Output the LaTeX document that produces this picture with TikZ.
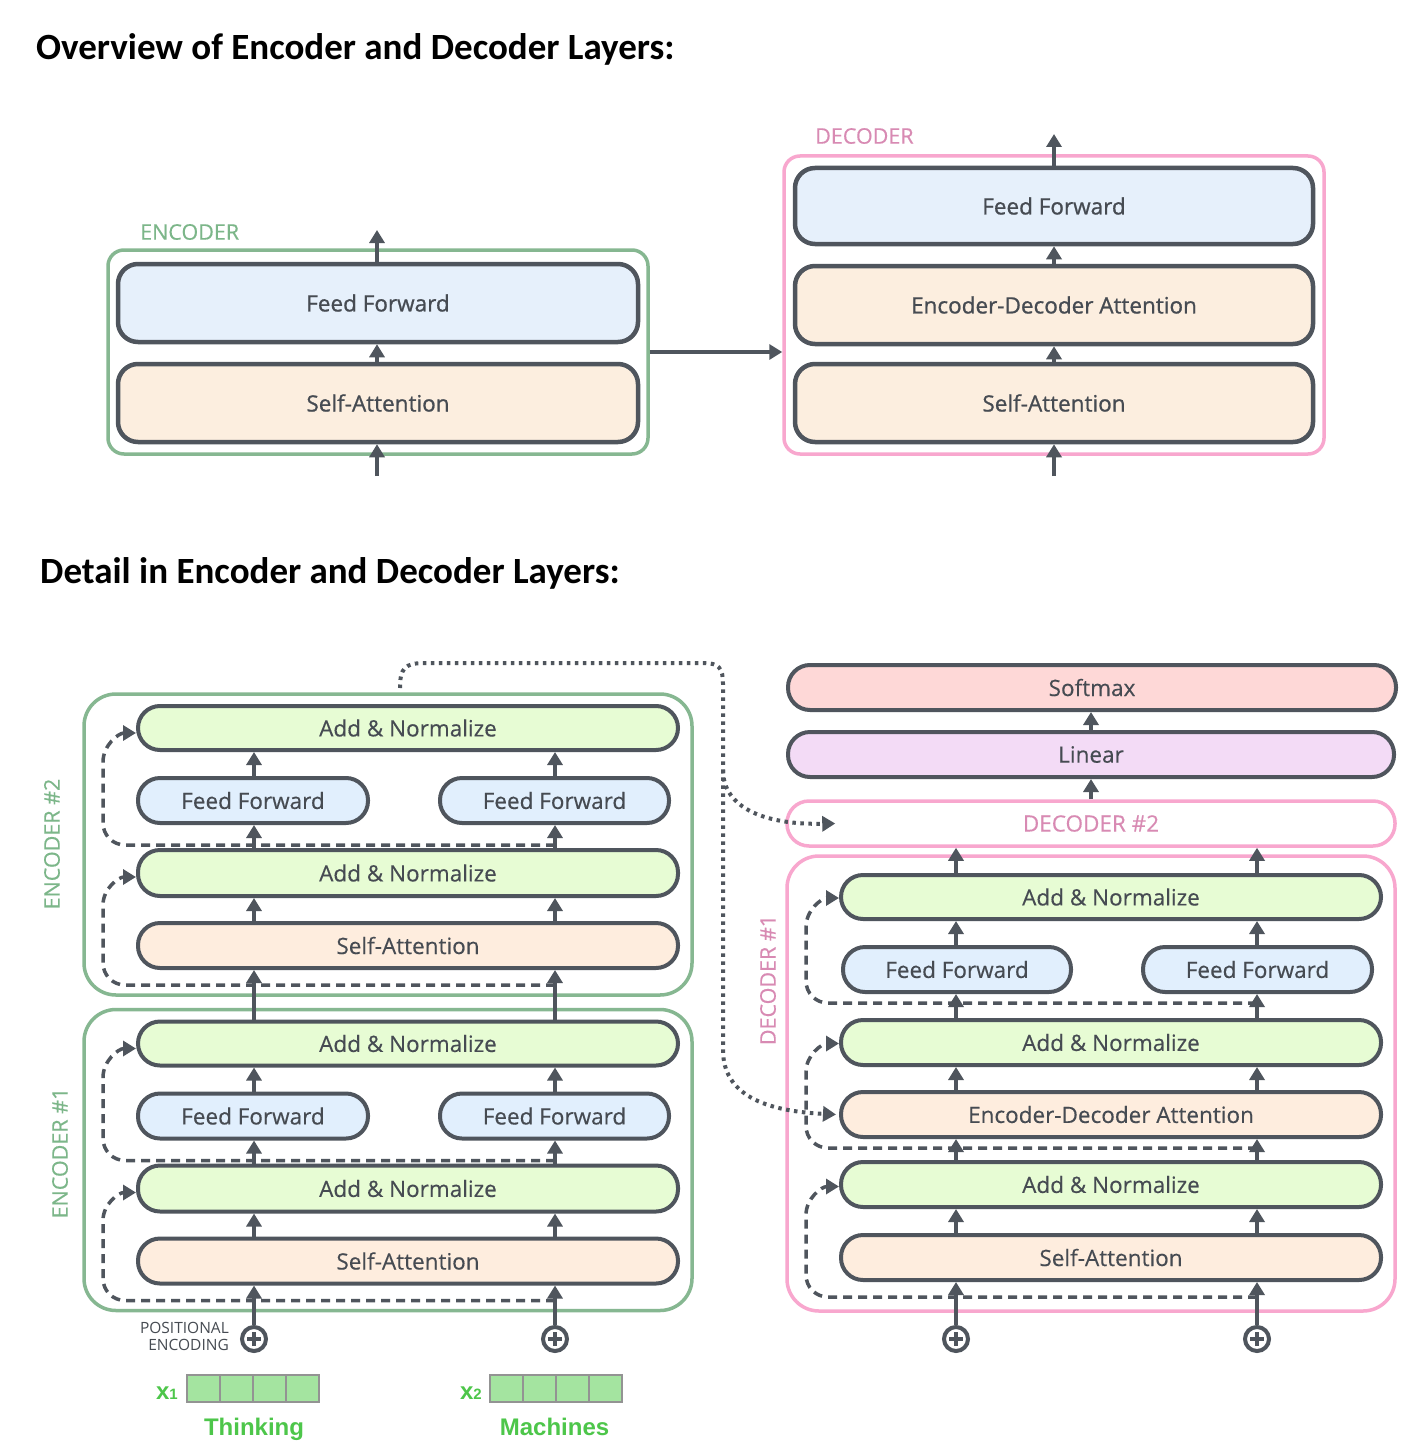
\documentclass[tikz,border=0pt]{standalone}
\usepackage{fontspec}
\newfontfamily\osans{Open Sans}
\newfontfamily\osansb[FakeBold=0.9]{Open Sans}
\newfontfamily\osansm[FakeBold=0.35]{Open Sans}
\newfontfamily\carl{Carlito}
\newfontfamily\lsans{Liberation Sans}
\usetikzlibrary{arrows.meta,calc}
\definecolor{dk}{HTML}{4F555D}
\definecolor{txt}{HTML}{464B52}
\definecolor{grnO}{HTML}{86B791}
\definecolor{grnT}{HTML}{7CB689}
\definecolor{pnkO}{HTML}{F8A7CE}
\definecolor{pnkT}{HTML}{D88AB3}
\definecolor{cAN}{HTML}{E7FCD4}
\definecolor{cFF}{HTML}{E1EFFD}
\definecolor{cSA}{HTML}{FEEDDE}
\definecolor{tFF}{HTML}{E6F0FB}
\definecolor{tSA}{HTML}{FCEEDF}
\definecolor{cSmx}{HTML}{FED8D7}
\definecolor{cLin}{HTML}{F3DBF6}
\definecolor{word}{HTML}{4DC64A}
\definecolor{cell}{HTML}{A4E4A0}
\tikzset{
 box/.style={draw=dk, line width=4pt, text=txt, inner sep=0pt, font=\osansm\fontsize{22.5}{27}\selectfont},
 pill/.style={box, rounded corners=22pt},
 bigbox/.style={draw=dk, line width=4.5pt, text=txt, inner sep=0pt, rounded corners=20pt, font=\osansb\fontsize{22.5}{27}\selectfont},
 outerG/.style={draw=grnO, line width=3.5pt, rounded corners=32pt, inner sep=0pt},
 outerP/.style={draw=pnkO, line width=3.5pt, rounded corners=32pt, inner sep=0pt},
 arr/.style={draw=dk, line width=4pt, -{Triangle[width=15pt,length=13pt]}},
 resid/.style={draw=dk, line width=3.5pt, dash pattern=on 9pt off 6pt, -{Triangle[width=15pt,length=13pt]}},
 dots/.style={draw=dk, line width=4pt, dash pattern=on 3.5pt off 4.5pt, -{Triangle[width=15pt,length=13pt]}},
 lblG/.style={text=grnT, inner sep=0pt, font=\osansm\fontsize{21.5}{25}\selectfont},
 lblP/.style={text=pnkT, inner sep=0pt, font=\osansm\fontsize{21.5}{25}\selectfont},
 title/.style={anchor=west, inner sep=0pt, font=\carl\bfseries\fontsize{37}{42}\selectfont},
 oplus/.style={circle, draw=dk, line width=4pt, minimum size=24pt, inner sep=0pt,
   path picture={\draw[dk, line width=3.5pt]
     ([xshift=-7pt]path picture bounding box.center) -- ([xshift=7pt]path picture bounding box.center)
     ([yshift=-7pt]path picture bounding box.center) -- ([yshift=7pt]path picture bounding box.center);}},
 cellbox/.style={draw=gray!85, fill=cell, line width=1.2pt, minimum width=33pt, minimum height=27pt, inner sep=0pt},
 xlab/.style={anchor=base east, inner sep=0pt, text=word, font=\lsans\bfseries\fontsize{24}{24}\selectfont},
 wordlab/.style={anchor=base, inner sep=0pt, text=word, font=\lsans\bfseries\fontsize{24}{24}\selectfont},
}
\newcommand{\EncLayer}[2]{%
\begin{scope}[yshift=-#2pt]
 \node[outerG, minimum width=608pt, minimum height=301pt] (#1o) at (388,844.5) {};
 \node[pill, fill=cAN, minimum width=540pt, minimum height=44pt] (#1an2) at (408,728) {Add \& Normalize};
 \node[pill, fill=cFF, minimum width=230pt, minimum height=45pt] (#1ffa) at (253,800.5) {Feed Forward};
 \node[pill, fill=cFF, minimum width=229pt, minimum height=45pt] (#1ffb) at (554.5,800.5) {Feed Forward};
 \node[pill, fill=cAN, minimum width=540pt, minimum height=46pt] (#1an1) at (408,873) {Add \& Normalize};
 \node[pill, fill=cSA, minimum width=540pt, minimum height=45pt] (#1sa) at (408,945.5) {Self-Attention};
 \draw[resid] (555,985) -- (125,985) to[out=180,in=-90] (103,963) -- (103,905) to[out=90,in=180] ([yshift=-4pt]#1an1.west);
 \draw[resid] (555,845) -- (125,845) to[out=180,in=-90] (103,823) -- (103,762) to[out=90,in=180] ([yshift=-5pt]#1an2.west);
 \draw[arr] (#1sa.north -| cA) -- (#1an1.south -| cA);
 \draw[arr] (#1sa.north -| cB) -- (#1an1.south -| cB);
 \draw[arr] (#1an1.north -| cA) -- (#1ffa.south -| cA);
 \draw[arr] (#1an1.north -| cB) -- (#1ffb.south -| cB);
 \draw[arr] (#1ffa.north -| cA) -- (#1an2.south -| cA);
 \draw[arr] (#1ffb.north -| cB) -- (#1an2.south -| cB);
\end{scope}}
\begin{document}
\begin{tikzpicture}[x=1pt,y=-1pt]
\fill[white] (0,0) rectangle (1410,1442);
\useasboundingbox (0,0) rectangle (1410,1442);

% titles
\node[title] (t1) at (36,49) {Overview of Encoder and Decoder Layers:};
\node[title] (t2) at (40,573) {Detail in Encoder and Decoder Layers:};

% ---------- overview: encoder ----------
\node[outerG, rounded corners=16pt, minimum width=540pt, minimum height=204pt] (tenc) at (378,352) {};
\node[lblG, anchor=west] (tencl) at (140,232) {ENCODER};
\node[bigbox, fill=tFF, minimum width=520pt, minimum height=78pt] (tff) at (378,303) {Feed Forward};
\node[bigbox, fill=tSA, minimum width=520pt, minimum height=78pt] (tsa) at (378,403) {Self-Attention};
\coordinate (tin) at (377,476);
\coordinate (tout) at (377,230);
\draw[arr] (tin) -- (tsa.south -| tin);
\draw[arr] (tsa.north -| tin) -- (tff.south -| tin);
\draw[arr] (tff.north -| tin) -- (tout);

% ---------- overview: decoder ----------
\node[outerP, rounded corners=16pt, minimum width=540pt, minimum height=298pt] (tdec) at (1054,305) {};
\node[lblP, anchor=west] (tdecl) at (815,136) {DECODER};
\node[bigbox, fill=tFF, minimum width=518pt, minimum height=76pt] (tdff) at (1054,206) {Feed Forward};
\node[bigbox, fill=tSA, minimum width=518pt, minimum height=78pt] (tdeda) at (1054,305) {Encoder-Decoder Attention};
\node[bigbox, fill=tSA, minimum width=518pt, minimum height=78pt] (tdsa) at (1054,403) {Self-Attention};
\coordinate (tdin) at (1054,476);
\coordinate (tdout) at (1054,134);
\draw[arr] (tdin) -- (tdsa.south);
\draw[arr] (tdsa.north) -- (tdeda.south);
\draw[arr] (tdeda.north) -- (tdff.south);
\draw[arr] (tdff.north) -- (tdout);
\draw[arr] (tenc.east) -- (tenc.east -| tdec.west);

% ---------- detail: encoders ----------
\coordinate (cA) at (254,0);
\coordinate (cB) at (555,0);
\EncLayer{e2}{0}
\EncLayer{e1}{315.5}
\node[lblG, rotate=90] (e2lab) at (52,844) {ENCODER \#2};
\node[lblG, rotate=90] (e1lab) at (60,1153) {ENCODER \#1};
\draw[arr] (e1an2.north -| cA) -- (e2sa.south -| cA);
\draw[arr] (e1an2.north -| cB) -- (e2sa.south -| cB);

\node[oplus] (p1) at (254,1339) {};
\node[oplus] (p2) at (555,1339) {};
\draw[arr] (p1.north) -- (e1sa.south -| cA);
\draw[arr] (p2.north) -- (e1sa.south -| cB);
\node[anchor=east, align=right, inner sep=0pt, text=txt, font=\osans\fontsize{15.5}{16.5}\selectfont] (pe) at (229,1336.5) {POSITIONAL\\ENCODING};

\foreach \i/\x in {1/203.5,2/236.5,3/269.5,4/302.5} \node[cellbox] (xa\i) at (\x,1388.5) {};
\foreach \i/\x in {1/506.5,2/539.5,3/572.5,4/605.5} \node[cellbox] (xb\i) at (\x,1388.5) {};
\node[xlab] (x1l) at (178,1399) {x{\fontsize{15}{15}\selectfont 1}};
\node[xlab] (x2l) at (482,1399) {x{\fontsize{15}{15}\selectfont 2}};
\node[wordlab] (w1) at (254,1435) {Thinking};
\node[wordlab] (w2) at (554.5,1435) {Machines};

% ---------- detail: decoder ----------
\coordinate (dA) at (956,0);
\coordinate (dB) at (1257,0);
\coordinate (dC) at (1091,0);
\node[pill, fill=cSmx, minimum width=608pt, minimum height=45pt] (smx) at (1092,687.5) {Softmax};
\node[pill, fill=cLin, minimum width=606pt, minimum height=45pt] (lin) at (1091,754.5) {Linear};
\node[pill, draw=pnkO, line width=3.5pt, fill=white, text=pnkT, minimum width=608pt, minimum height=45pt] (d2) at (1091,823.5) {DECODER \#2};
\node[outerP, minimum width=608pt, minimum height=455pt] (d1o) at (1091,1083.5) {};
\node[lblP, rotate=90] (d1lab) at (768,980) {DECODER \#1};

\node[pill, fill=cAN, minimum width=540pt, minimum height=44pt] (dan3) at (1111,897) {Add \& Normalize};
\node[pill, fill=cFF, minimum width=228pt, minimum height=45pt] (dffa) at (957,969.5) {Feed Forward};
\node[pill, fill=cFF, minimum width=229pt, minimum height=45pt] (dffb) at (1257.5,969.5) {Feed Forward};
\node[pill, fill=cAN, minimum width=540pt, minimum height=45pt] (dan2) at (1111,1042.5) {Add \& Normalize};
\node[pill, fill=cSA, minimum width=540pt, minimum height=45pt] (deda) at (1111,1114.5) {Encoder-Decoder Attention};
\node[pill, fill=cAN, minimum width=540pt, minimum height=45pt] (dan1) at (1111,1184.5) {Add \& Normalize};
\node[pill, fill=cSA, minimum width=540pt, minimum height=45pt] (dsa) at (1111,1257.5) {Self-Attention};

\draw[resid] (1257,1297) -- (828,1297) to[out=180,in=-90] (806,1275) -- (806,1215) to[out=90,in=180] ([yshift=-2pt]dan1.west);
\draw[resid] (1257,1148) -- (828,1148) to[out=180,in=-90] (806,1126) -- (806,1072) to[out=90,in=180] ([yshift=-1pt]dan2.west);
\draw[resid] (1257,1003) -- (828,1003) to[out=180,in=-90] (806,981) -- (806,927) to[out=90,in=180] ([yshift=-1pt]dan3.west);

\node[oplus] (p3) at (956,1339) {};
\node[oplus] (p4) at (1257,1339) {};
\foreach \c in {dA,dB}{
  \draw[arr] (dsa.north -| \c) -- (dan1.south -| \c);
  \draw[arr] (dan1.north -| \c) -- (deda.south -| \c);
  \draw[arr] (deda.north -| \c) -- (dan2.south -| \c);
  \draw[arr] (dan3.north -| \c) -- (d2.south -| \c);
}
\draw[arr] (p3.north) -- (dsa.south -| dA);
\draw[arr] (p4.north) -- (dsa.south -| dB);
\draw[arr] (dan2.north -| dA) -- (dffa.south -| dA);
\draw[arr] (dan2.north -| dB) -- (dffb.south -| dB);
\draw[arr] (dffa.north -| dA) -- (dan3.south -| dA);
\draw[arr] (dffb.north -| dB) -- (dan3.south -| dB);
\draw[arr] (d2.north -| dC) -- (lin.south -| dC);
\draw[arr] (lin.north -| dC) -- (smx.south -| dC);

% ---------- dotted encoder output ----------
\coordinate (ds) at (400,688);
\coordinate (db) at (723,770);
\draw[dots] (ds) .. controls (400,668) and (405,663) .. (425,663) -- (703,663) .. controls (719,663) and (723,668) .. (723,684) -- (723,1050) .. controls (723,1095) and (765,1111) .. ([xshift=-3pt]deda.west);
\draw[dots] (db) .. controls (723,808) and (765,825) .. ([xshift=50pt]d2.west);
\end{tikzpicture}
\end{document}
